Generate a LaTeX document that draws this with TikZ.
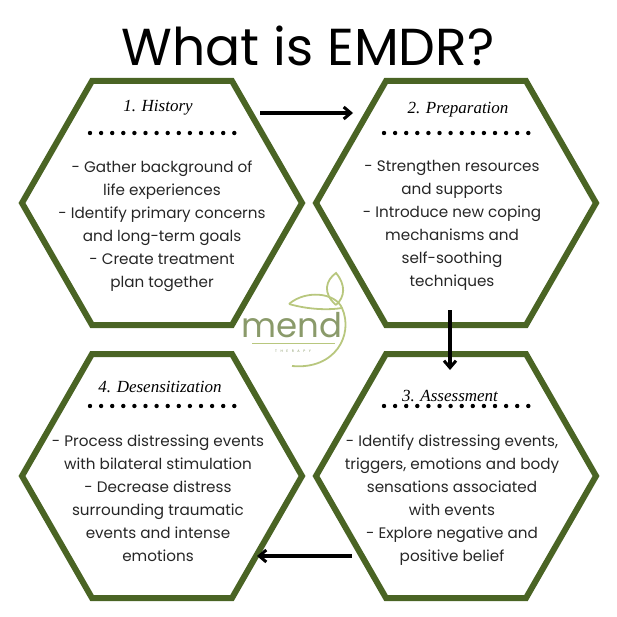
\documentclass[tikz,border=0pt]{standalone}
\usepackage{fontspec}
\setmainfont{Poppins}
\newfontfamily\headfont{Liberation Serif}
\usetikzlibrary{arrows.meta}
\definecolor{hexg}{HTML}{4A6424}
\definecolor{leaf}{HTML}{B8C77E}
\definecolor{mendc}{HTML}{8A9A6A}
\begin{document}
\begin{tikzpicture}[x=1pt,y=-1pt,
  hexa/.style={draw=hexg,line width=6pt,line join=miter},
  body/.style={align=center,font=\fontsize{15.2}{23}\selectfont,text=black!85},
  head/.style={font=\headfont\itshape\fontsize{17}{20}\selectfont},
  conn/.style={line width=3.2pt,-{Straight Barb[length=7pt,width=12pt,line width=3pt]}}]
\useasboundingbox (0,0) rectangle (617,617);
\node (title) at (308,46) {\fontsize{52}{56}\selectfont What is EMDR?};
\newcommand\hexat[3]{% cx cy name
  \draw[hexa] (#1-70,#2-122) -- (#1+70,#2-122) -- (#1+140,#2) -- (#1+70,#2+122) -- (#1-70,#2+122) -- (#1-140,#2) -- cycle;
  \node (#3) at (#1,#2) {};
  \foreach \i in {0,...,13} \fill (#1-72+\i*11.1,#2-70) circle (2.2pt);}
\hexat{162}{203}{h1}
\hexat{456}{203}{h2}
\hexat{456}{476}{h3}
\hexat{162}{476}{h4}
\node[head] (t1) at (158,108) {1. History};
\node[head] (t2) at (458,110) {2. Preparation};
\node[head] (t3) at (450,396) {3. Assessment};
\node[head] (t4) at (160,387) {4. Desensitization};
\node[body,anchor=north] (b1) at (162,157) {- Gather background of\\life experiences\\- Identify primary concerns\\and long-term goals\\- Create treatment\\plan together};
\node[body,anchor=north] (b2) at (452,157) {- Strengthen resources\\and supports\\- Introduce new coping\\mechanisms and\\self-soothing\\techniques};
\node[body,anchor=north] (b3) at (452,431) {- Identify distressing events,\\triggers, emotions and body\\sensations associated\\with events\\- Explore negative and\\positive belief};
\node[body,anchor=north] (b4) at (158,431) {- Process distressing events\\with bilateral stimulation\\- Decrease distress\\surrounding traumatic\\events and intense\\emotions};
\coordinate (a1s) at (260,113); \coordinate (a1e) at (353,113);
\coordinate (a2s) at (450,310); \coordinate (a2e) at (450,370);
\coordinate (a3s) at (352,556); \coordinate (a3e) at (257,556);
\draw[conn] (a1s) -- (a1e);
\draw[conn] (a2s) -- (a2e);
\draw[conn] (a3s) -- (a3e);
% logo
\draw[leaf,line width=1.8pt] (289,304) .. controls (305,290) and (335,292) .. (342,308)
  .. controls (354,335) and (335,370) .. (292,366);
\draw[leaf,line width=1.8pt] (289,304) .. controls (310,310) and (330,310) .. (342,308);
\draw[leaf,line width=1.8pt] (336,305) .. controls (322,293) and (326,280) .. (336,273)
  .. controls (346,285) and (345,297) .. (336,305);
\node[text=mendc,font=\fontsize{34}{34}\selectfont] (mend) at (292,325) {mend};
\draw[leaf,line width=0.8pt] (252,343) -- (335,343);
\node[text=mendc,font=\fontsize{3.5}{4}\selectfont] (ther) at (293,351) {T\quad H\quad E\quad R\quad A\quad P\quad Y};
\end{tikzpicture}
\end{document}
